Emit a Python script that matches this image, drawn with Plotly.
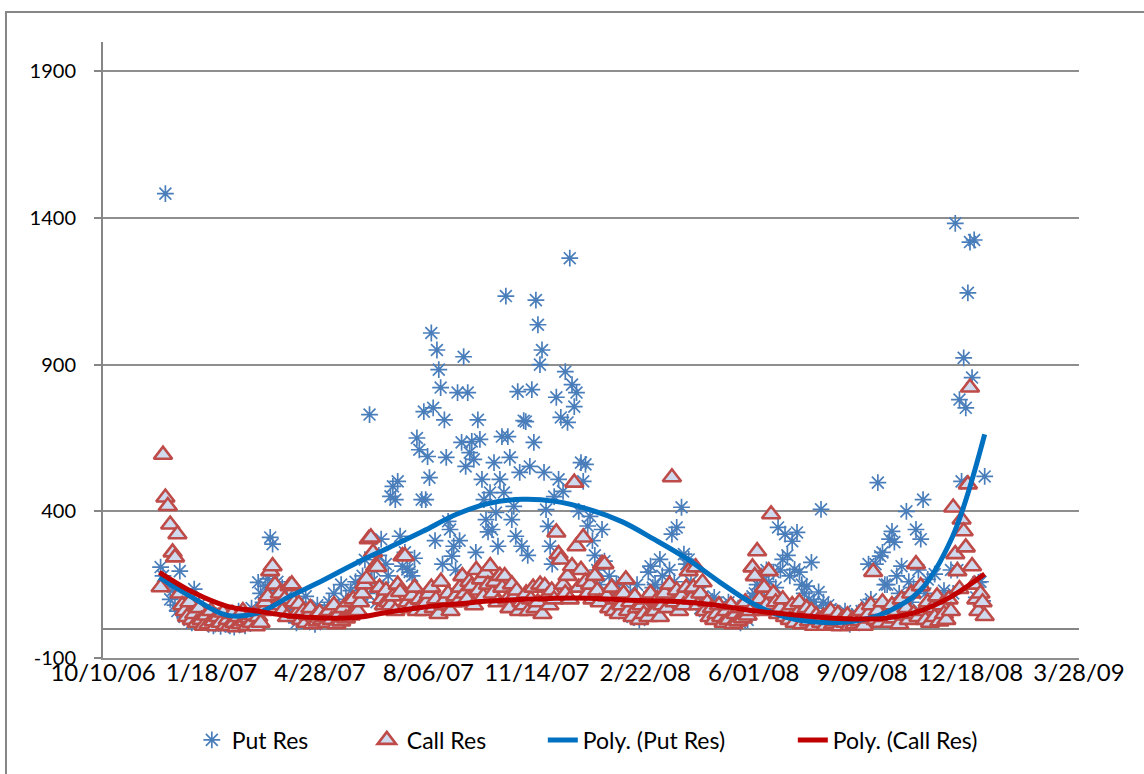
import pandas as pd
import plotly.graph_objects as go

# ---------------- data ----------------
months = pd.date_range("2006-12-01", periods=25, freq="MS")

# Put Res values, one list per month (Dec 2006 ... Dec 2008), in date order
put_res = [
    [210, 180, 1483, 150, 100, 130, 80, 60, 196, 120, 40, 90, 30, 20],
    [135, 60, 80, 40, 25, 50, 15, 30, 10, 45, 20, 8, 35, 15],
    [20, 10, 40, 5, 25, 60, 15, 30, 10, 45, 20, 70, 35, 50],
    [158, 120, 90, 145, 170, 311, 288, 130, 160, 100, 140, 80, 110, 60],
    [70, 40, 20, 90, 50, 30, 110, 60, 25, 45, 15, 80, 35, 55],
    [60, 40, 90, 30, 120, 70, 50, 150, 80, 100, 45, 130, 90, 160],
    [140, 100, 180, 235, 120, 730, 160, 200, 90, 250, 305, 140, 220, 180],
    [451, 485, 440, 502, 315, 213, 260, 202, 193, 180, 240, 650, 610, 440],
    [740, 440, 587, 515, 1008, 753, 300, 950, 883, 822, 220, 712, 584, 366, 338, 247, 281, 200],
    [805, 300, 635, 927, 553, 805, 600, 638, 577, 260, 712, 645, 509, 440, 372, 330],
    [464, 338, 566, 396, 281, 509, 655, 464, 1134, 655, 584, 372, 417, 315, 808, 533, 281],
    [709, 706, 250, 553, 815, 635, 1120, 1036, 900, 950, 533, 406, 349, 281, 220, 450],
    [789, 509, 720, 468, 876, 703, 1263, 832, 757, 805, 400, 566, 502, 560, 350],
    [383, 300, 250, 200, 150, 338, 230, 120, 179, 100, 80, 150, 60, 110],
    [158, 90, 60, 120, 40, 80, 150, 30, 70, 100, 50, 193, 213, 140],
    [150, 120, 236, 180, 90, 140, 200, 322, 160, 345, 120, 414, 254, 220],
    [236, 160, 120, 90, 140, 70, 110, 60, 100, 50, 80, 107, 40, 70],
    [80, 60, 40, 90, 67, 30, 50, 70, 20, 45, 60, 30, 90, 110],
    [120, 150, 90, 180, 130, 200, 160, 110, 193, 140, 345, 200, 236, 322],
    [250, 180, 298, 202, 328, 193, 150, 120, 145, 100, 226, 90, 70, 125],
    [407, 90, 60, 80, 67, 40, 30, 50, 20, 35, 60, 25, 15, 40],
    [30, 50, 20, 60, 40, 80, 220, 100, 60, 220, 498, 247, 260, 150],
    [150, 305, 332, 295, 180, 120, 213, 100, 400, 160, 90, 140, 338, 200],
    [305, 440, 120, 168, 80, 60, 186, 100, 40, 70, 130, 50, 90, 200],
    [120, 1382, 200, 781, 502, 923, 753, 1145, 1318, 856, 1325, 107, 158, 160, 95, 519],
]

# Call Res values, one list per month (Dec 2006 ... Dec 2008), in date order
call_res = [
    [141, 593, 447, 418, 355, 260, 243, 322, 120, 80, 60, 40, 90, 30],
    [50, 20, 70, 30, 10, 45, 15, 60, 25, 8, 40, 20, 55, 12],
    [30, 10, 50, 20, 5, 40, 15, 60, 25, 10, 35, 20, 45, 8],
    [40, 20, 60, 90, 110, 196, 213, 150, 80, 120, 60, 100, 40, 145],
    [151, 90, 50, 84, 30, 60, 20, 45, 70, 15, 40, 25, 55, 30],
    [40, 20, 60, 30, 80, 15, 50, 25, 70, 35, 90, 45, 100, 60],
    [60, 90, 120, 151, 170, 305, 311, 260, 213, 210, 140, 100, 80, 130, 90],
    [80, 110, 60, 150, 125, 247, 247, 90, 70, 112, 140, 60, 100, 80],
    [60, 90, 118, 140, 70, 100, 50, 160, 80, 100, 120, 60, 90, 110],
    [90, 140, 179, 120, 100, 160, 145, 80, 200, 130, 168, 110, 190, 150],
    [213, 120, 160, 90, 180, 140, 179, 100, 70, 151, 110, 130, 60, 90],
    [80, 120, 60, 100, 140, 70, 90, 150, 50, 145, 110, 80, 130, 100],
    [328, 254, 236, 150, 120, 180, 100, 213, 498, 281, 140, 200, 311, 160, 120],
    [150, 100, 180, 130, 90, 220, 220, 110, 70, 140, 60, 100, 50, 80],
    [120, 168, 60, 90, 40, 110, 70, 30, 80, 50, 100, 40, 120, 60],
    [60, 100, 40, 80, 120, 70, 150, 516, 90, 130, 60, 110, 80, 140],
    [196, 100, 140, 209, 80, 120, 158, 60, 90, 40, 70, 30, 50, 80],
    [40, 20, 60, 30, 80, 15, 50, 25, 70, 35, 90, 45, 60, 209],
    [179, 264, 100, 60, 140, 80, 196, 390, 120, 90, 50, 70, 100, 40],
    [60, 30, 80, 20, 50, 90, 15, 40, 70, 25, 60, 10, 45, 30],
    [20, 40, 10, 30, 60, 15, 25, 50, 8, 35, 20, 45, 10, 30],
    [15, 40, 25, 60, 10, 35, 50, 80, 193, 30, 60, 20, 90, 40],
    [50, 20, 80, 35, 60, 15, 100, 45, 70, 30, 120, 50, 220, 40],
    [145, 60, 30, 90, 20, 70, 40, 110, 25, 80, 50, 30, 100, 60],
    [413, 254, 196, 135, 372, 332, 277, 492, 822, 213, 150, 100, 60, 120, 90, 43],
]

# polynomial trend lines, read at month starts (+ final day)
trend_dates = list(pd.date_range("2006-12-01", periods=25, freq="MS")) + [pd.Timestamp("2008-12-31")]
put_poly = [175, 105, 46, 53, 111, 165, 225, 277, 332, 390, 427, 441, 434, 407, 364, 305,
            237, 158, 84, 39, 22, 25, 55, 128, 311, 662]
call_poly = [192, 124, 77, 60, 43, 36, 38, 57, 73, 84, 94, 100, 104, 104, 98, 95,
             90, 78, 61, 50, 39, 33, 36, 60, 111, 186]

x_tick_dates = ["2006-10-10", "2007-01-18", "2007-04-28", "2007-08-06", "2007-11-14",
                "2008-02-22", "2008-06-01", "2008-09-09", "2008-12-18", "2009-03-28"]
x_tick_text = ["10/10/06", "1/18/07", "4/28/07", "8/06/07", "11/14/07",
               "2/22/08", "6/01/08", "9/09/08", "12/18/08", "3/28/09"]
y_ticks = [-100, 400, 900, 1400, 1900]
y_tick_text = ["-100", "400", "900", "1400", "1900"]


def spread(blocks):
    xs, ys = [], []
    for m, vals in zip(months, blocks):
        ndays = m.days_in_month
        n = len(vals)
        for i, v in enumerate(vals):
            xs.append(m + pd.Timedelta(days=(i + 0.5) / n * ndays))
            ys.append(v)
    return xs, ys


px_, py_ = spread(put_res)
cx_, cy_ = spread(call_res)

FONT = "Lato, 'Open Sans', sans-serif"
GRID = "#8e8e8e"

fig = go.Figure()
fig.add_trace(go.Scatter(
    x=px_, y=py_, mode="markers", name="Put Res",
    marker=dict(symbol="asterisk-open", size=14, color="#4A7EBB",
                line=dict(color="#4A7EBB", width=1.7)),
    legendwidth=130,
))
fig.add_trace(go.Scatter(
    x=cx_, y=cy_, mode="markers", name="Call Res",
    marker=dict(symbol="triangle-up", size=16, color="#CFDAEE",
                line=dict(color="#BE4B48", width=2.6)),
    legendwidth=131,
))
fig.add_trace(go.Scatter(
    x=trend_dates, y=put_poly, mode="lines", name="Poly. (Put Res)",
    line=dict(color="#0070C0", width=5, shape="spline", smoothing=1.0),
    legendwidth=205,
))
fig.add_trace(go.Scatter(
    x=trend_dates, y=call_poly, mode="lines", name="Poly. (Call Res)",
    line=dict(color="#C00000", width=5, shape="spline", smoothing=1.0),
    legendwidth=170,
))

fig.update_layout(
    width=1144, height=774,
    margin=dict(l=103, r=65, t=42, b=116),
    paper_bgcolor="white", plot_bgcolor="white",
    font=dict(family=FONT, color="black"),
    showlegend=True,
    legend=dict(orientation="h", x=0.091, xanchor="left", y=-0.133, yanchor="middle",
                font=dict(family=FONT, size=23, color="black"),
                bgcolor="rgba(0,0,0,0)"),
    xaxis=dict(
        type="date", range=["2006-10-10", "2009-03-28"],
        tickmode="array", tickvals=x_tick_dates, ticktext=x_tick_text,
        tickfont=dict(family=FONT, size=24, color="black"),
        showgrid=False, zeroline=False,
        showline=True, linecolor=GRID, linewidth=2,
        ticks="", ticklabelstandoff=-8,
    ),
    yaxis=dict(
        range=[-100, 2000], tickmode="array", tickvals=y_ticks, ticktext=y_tick_text,
        tickfont=dict(family=FONT, size=20, color="black"),
        showgrid=True, gridcolor=GRID, gridwidth=2,
        zeroline=True, zerolinecolor="#868686", zerolinewidth=2,
        showline=True, linecolor="#868686", linewidth=2,
        ticks="outside", ticklen=7, tickcolor="#868686", tickwidth=2,
        ticklabelstandoff=14,
    ),
    shapes=[dict(type="rect", xref="paper", yref="paper",
                 x0=-0.0994, x1=1.3, y0=-0.4, y1=1.0487,
                 line=dict(color="#868686", width=2), fillcolor="rgba(0,0,0,0)",
                 layer="below")],
)

fig.write_html("out.html")
